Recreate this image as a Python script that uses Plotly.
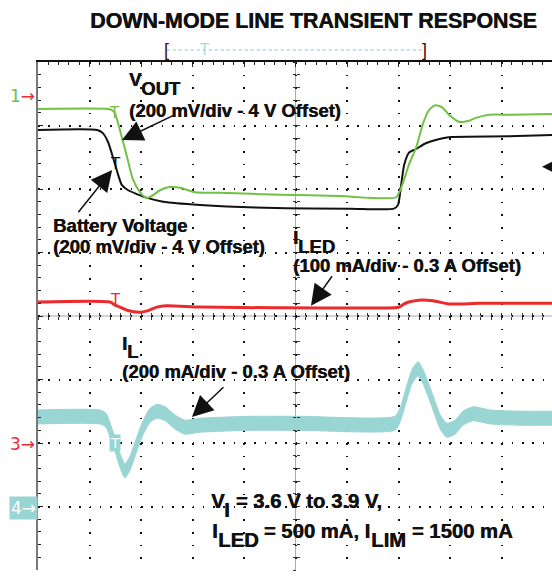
import plotly.graph_objects as go

# Screen units: time in horizontal divisions (0..10), levels in vertical divisions (-4..4, 0 = centre)
t_vout = [0.00, 1.36, 1.44, 1.50, 1.59, 1.73, 1.84, 1.98, 2.10, 2.21, 2.37, 2.56, 2.76, 3.05, 3.53, 4.70,
          5.86, 6.95, 7.07, 7.20, 7.34, 7.48, 7.59, 7.71, 7.84, 7.98, 8.17, 8.35, 8.50, 8.76, 9.17, 9.98]
v_vout = [3.26, 3.26, 3.24, 3.18, 2.93, 2.50, 2.16, 1.95, 1.86, 1.89, 1.98, 2.03, 2.02, 1.95, 1.94, 1.91,
          1.89, 1.87, 2.06, 2.38, 2.65, 3.04, 3.24, 3.32, 3.29, 3.17, 3.06, 3.07, 3.12, 3.17, 3.17, 3.18]

t_batt = [0.00, 1.15, 1.26, 1.36, 1.44, 1.50, 1.55, 1.63, 1.75, 1.92, 2.12, 2.43, 3.15, 4.62, 6.06, 6.91,
          6.99, 7.05, 7.11, 7.20, 7.34, 7.53, 7.86, 8.02, 9.15, 9.98]
v_batt = [2.93, 2.93, 2.88, 2.74, 2.54, 2.38, 2.24, 2.06, 1.98, 1.92, 1.86, 1.80, 1.75, 1.70, 1.69, 1.69,
          1.75, 2.06, 2.38, 2.57, 2.63, 2.72, 2.80, 2.82, 2.83, 2.85]

t_iled = [0.00, 1.40, 1.50, 1.59, 1.73, 1.98, 2.12, 2.31, 2.50, 3.15, 4.62, 6.93, 7.01, 7.11, 7.20, 7.40,
          7.67, 7.98, 8.58, 9.98]
v_iled = [0.22, 0.22, 0.17, 0.14, 0.09, 0.06, 0.08, 0.14, 0.16, 0.14, 0.13, 0.13, 0.14, 0.19, 0.22, 0.25,
          0.24, 0.19, 0.20, 0.20]

# inductor current: upper and lower edge of the noisy trace band
t_il = [0.00, 1.20, 1.32, 1.40, 1.50, 1.59, 1.69, 1.79, 1.90, 2.04, 2.17, 2.31, 2.47, 2.66, 2.85, 3.15, 4.12,
        5.09, 6.93, 7.03, 7.15, 7.26, 7.38, 7.49, 7.65, 7.81, 7.94, 8.10, 8.25, 8.45, 8.78, 9.36, 9.98]
v_il_hi = [-1.48, -1.48, -1.53, -1.69, -1.92, -2.16, -2.33, -2.20, -1.95, -1.65, -1.46, -1.39, -1.43, -1.56,
           -1.64, -1.61, -1.58, -1.58, -1.58, -1.45, -1.13, -0.85, -0.72, -0.87, -1.21, -1.56, -1.69, -1.64,
           -1.50, -1.43, -1.48, -1.50, -1.50]
v_il_lo = [-1.70, -1.70, -1.75, -1.91, -2.14, -2.38, -2.55, -2.42, -2.17, -1.87, -1.68, -1.61, -1.65, -1.78,
           -1.86, -1.83, -1.80, -1.80, -1.80, -1.67, -1.35, -1.07, -0.94, -1.09, -1.43, -1.78, -1.91, -1.86,
           -1.72, -1.65, -1.70, -1.72, -1.72]

TITLE = "DOWN-MODE LINE TRANSIENT RESPONSE"
X_RANGE = [0, 9.98]
Y_RANGE = [-4, 4]

GREEN = "#72c044"
BLACK = "#111111"
RED = "#ec2a2e"
CYAN = "#98d5d3"
FONT = "Liberation Sans, Arial, Helvetica, sans-serif"
SYM = "DejaVu Sans, sans-serif"
BOLDEN = "0.5px 0px 0px #111111"

fig = go.Figure()

def line_trace(x, y, color, width, smoothing=0.6, **kw):
    return go.Scatter(x=x, y=y, mode="lines", hoverinfo="skip",
                      line=dict(color=color, width=width, shape="spline", smoothing=smoothing), **kw)

fig.add_trace(line_trace(t_il, v_il_hi, CYAN, 1))
fig.add_trace(line_trace(t_il, v_il_lo, CYAN, 1, fill="tonexty", fillcolor=CYAN))
fig.add_trace(line_trace(t_iled, v_iled, RED, 3))
fig.add_trace(line_trace(t_batt, v_batt, BLACK, 2))
fig.add_trace(line_trace(t_vout, v_vout, GREEN, 2))

# dummy traces so the centre-line tick axes get drawn
for xa, ya in [("x2", "y"), ("x3", "y"), ("x", "y2"), ("x", "y3")]:
    fig.add_trace(go.Scatter(x=[None], y=[None], xaxis=xa, yaxis=ya, hoverinfo="skip", showlegend=False))

grid_common = dict(showticklabels=False, zeroline=False, fixedrange=True)

center_x = dict(range=X_RANGE, overlaying="x", anchor="free", position=0.5, dtick=0.2, tick0=0,
                ticklen=3, tickcolor="#333", showgrid=False, showline=False, **grid_common)
center_y = dict(range=Y_RANGE, overlaying="y", anchor="free", position=5 / X_RANGE[1], dtick=0.2, tick0=0,
                ticklen=3, tickcolor="#333", showgrid=False, showline=False, **grid_common)

fig.update_layout(
    width=552, height=584,
    margin=dict(l=38, r=0, t=62, b=14),
    paper_bgcolor="white", plot_bgcolor="white",
    showlegend=False,
    font=dict(family=FONT, color=BLACK),
    xaxis=dict(range=X_RANGE, side="top", showline=True, linecolor="#111", linewidth=1.5,
               showgrid=True, gridcolor="#111", gridwidth=1.6, griddash="1.6px,11.1px",
               dtick=1, tick0=0, ticks="inside", ticklen=5, tickcolor="#222",
               minor=dict(dtick=0.2, ticks="inside", ticklen=3, tickcolor="#222", showgrid=False),
               **grid_common),
    yaxis=dict(range=Y_RANGE, showline=True, linecolor="#777", linewidth=2,
               showgrid=True, gridcolor="#111", gridwidth=1.6, griddash="1.6px,8.7px",
               dtick=1, tick0=0, ticks="inside", ticklen=5, tickcolor="#222",
               minor=dict(dtick=0.2, ticks="inside", ticklen=3, tickcolor="#222", showgrid=False),
               **grid_common),
    xaxis2=dict(center_x, ticks="outside"),
    xaxis3=dict(center_x, ticks="inside"),
    yaxis2=dict(center_y, ticks="outside"),
    yaxis3=dict(center_y, ticks="inside"),
)

# centre cross lines
fig.add_shape(type="line", xref="x", yref="y", x0=X_RANGE[0], x1=X_RANGE[1], y0=0, y1=0,
              line=dict(color="#aaaaaa", width=1), layer="below")
fig.add_shape(type="line", xref="x", yref="y", x0=5, x1=5, y0=Y_RANGE[0], y1=Y_RANGE[1],
              line=dict(color="#aaaaaa", width=1), layer="below")

# top acquisition bracket
BR_Y = 1.0236
fig.add_shape(type="line", xref="x", yref="paper", x0=2.5, x1=7.5, y0=BR_Y, y1=BR_Y,
              line=dict(color="#a9dcdc", width=1.5, dash="dot"))

annotations = []

def txt(text, x, y, size=18.5, color=BLACK, xanchor="left", yanchor="middle", xref="x", yref="y",
        family=FONT, shadow="none", **kw):
    annotations.append(dict(text=text, x=x, y=y, xref=xref, yref=yref, showarrow=False,
                            xanchor=xanchor, yanchor=yanchor,
                            font=dict(size=size, color=color, family=family, shadow=shadow), **kw))

# Arial/Liberation Sans Bold advance widths (1/1000 em) for laying out full-size subscripts
W = {" ": 278, "(": 333, ")": 333, "-": 333, ".": 278, ",": 278, "/": 278, "=": 584,
     "A": 722, "B": 722, "D": 722, "E": 667, "I": 278, "L": 611, "M": 833, "O": 778, "T": 611,
     "U": 722, "V": 667, "a": 556, "d": 611, "e": 556, "f": 333, "g": 611, "i": 278, "l": 278,
     "m": 889, "o": 611, "r": 389, "s": 556, "t": 333, "v": 556, "y": 556}

def text_width(s, size):
    return sum(W.get(c, 556) for c in s) / 1000 * size

def rich(pieces, x, y, size=18.5):
    """pieces: list of (text, is_subscript); subscripts keep full size but sit lower."""
    shift = 0.0
    for s, sub in pieces:
        txt("<b>%s</b>" % s, x, y, size=size, shadow=BOLDEN,
            xshift=shift, yshift=-0.45 * size if sub else 0, borderpad=0)
        shift += text_width(s, size)

txt("<b>" + TITLE + "</b>", 0.536, (570 - 21) / 508, size=21.4, xanchor="center", xref="paper",
    yref="paper", shadow=BOLDEN)

rich([("V", False), ("OUT", True)], 1.75, 3.72)
rich([("(200 mV/div - 4 V Offset)", False)], 1.75, 3.24)
rich([("Battery Voltage", False)], 0.27, 1.43)
rich([("(200 mV/div - 4 V Offset)", False)], 0.27, 1.10)
rich([("I", False), ("LED", True)], 4.93, 1.23)
rich([("(100 mA/div - 0.3 A Offset)", False)], 4.93, 0.79)
rich([("I", False), ("L", True)], 1.61, -0.43)
rich([("(200 mA/div - 0.3 A Offset)", False)], 1.61, -0.87)
rich([("V", False), ("I", True), (" = 3.6 V to 3.9 V,", False)], 3.33, -2.91, size=20.3)
rich([("I", False), ("LED", True), (" = 500 mA, I", False), ("LIM", True), (" = 1500 mA", False)],
     3.36, -3.39, size=20.3)

# trigger / reference markers on traces
txt("T", 1.48, 3.20, size=15, color=GREEN, xanchor="center", family=SYM)
txt("T", 1.50, 2.39, size=15, color=BLACK, xanchor="center", family=SYM)
txt("T", 1.50, 0.25, size=15, color=RED, xanchor="center", family=SYM)
txt("T", 1.50, -2.0, size=14, color="white", xanchor="center", family=SYM, bgcolor=CYAN, borderpad=0)

# channel reference markers
txt("<span style='color:%s'>1</span>→" % GREEN, -0.002, 3.46, size=17, color=RED, xanchor="right",
    xref="paper", family=SYM)
txt("3→", -0.002, -2.02, size=17, color=RED, xanchor="right", xref="paper", family=SYM)
txt("4→", 0.0, -3.02, size=17, color="white", xanchor="right", xref="paper", bgcolor=CYAN, borderpad=1,
    family=SYM)
# right-edge level marker (filled left arrow)
annotations.append(dict(x=0.9805, y=2.35, xref="paper", yref="y", ax=18, ay=0, text="", showarrow=True,
                        arrowhead=2, arrowsize=1.4, arrowwidth=2.4, arrowcolor=BLACK,
                        standoff=0, startstandoff=0))

# top bracket markers
txt("[", 2.5, BR_Y, size=18, color="#4a0c0c", xanchor="center", yref="paper")
txt("]", 7.5, BR_Y, size=18, color="#4a0c0c", xanchor="center", yref="paper")
txt("T", 3.24, BR_Y, size=15, color="#a9dcdc", xanchor="center", yref="paper", family=SYM)

# pointer arrows
def arrow(x, y, ax, ay):
    annotations.append(dict(x=x, y=y, ax=ax, ay=ay, xref="x", yref="y", axref="x", ayref="y",
                            text="", showarrow=True, arrowhead=2, arrowsize=2.8, arrowwidth=1.5,
                            arrowcolor=BLACK, standoff=0, startstandoff=0))

arrow(1.63, 2.77, 2.66, 3.17)
arrow(1.44, 2.30, 0.76, 1.61)
arrow(5.30, 0.16, 5.73, 0.65)
arrow(2.99, -1.59, 3.63, -1.10)

fig.update_layout(annotations=annotations)

fig.write_html("out.html", config={"displayModeBar": False},
               post_script="document.body.style.margin='0px';")
